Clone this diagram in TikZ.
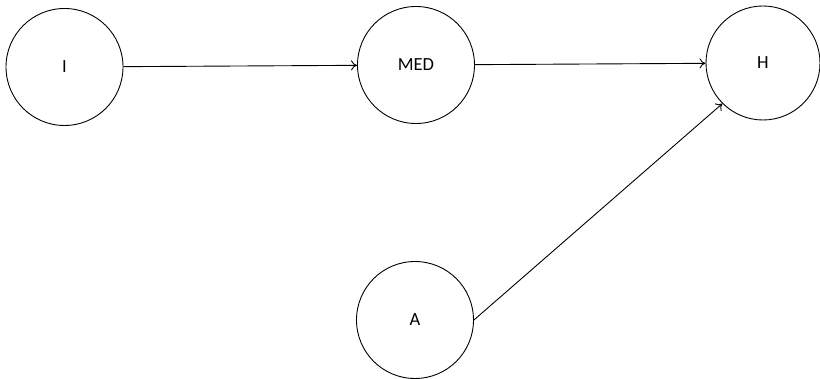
\documentclass[tikz,border=0pt]{standalone}
\usepackage{fontspec}
\setmainfont{Carlito}
\usetikzlibrary{arrows.meta}
\begin{document}
\begin{tikzpicture}[x=1pt,y=1pt,
  var/.style={circle,draw,line width=0.9pt,minimum size=117pt,inner sep=0pt,font=\fontsize{18.5}{20}\selectfont},
  link/.style={draw,line width=0.9pt,-{To[length=6pt,width=10pt]}}]
\useasboundingbox (0,0) rectangle (820,379);
\node[var] (I) at (64.5,312) {I};
\node[var] (MED) at (416,314) {MED};
\node[var,minimum size=114pt] (H) at (763,316) {H};
\node[var] (A) at (415,59) {A};
\path[link] (I) -- (MED);
\path[link] (MED) -- (H);
\path[link] (A.east) -- (H.south west);
\end{tikzpicture}
\end{document}
